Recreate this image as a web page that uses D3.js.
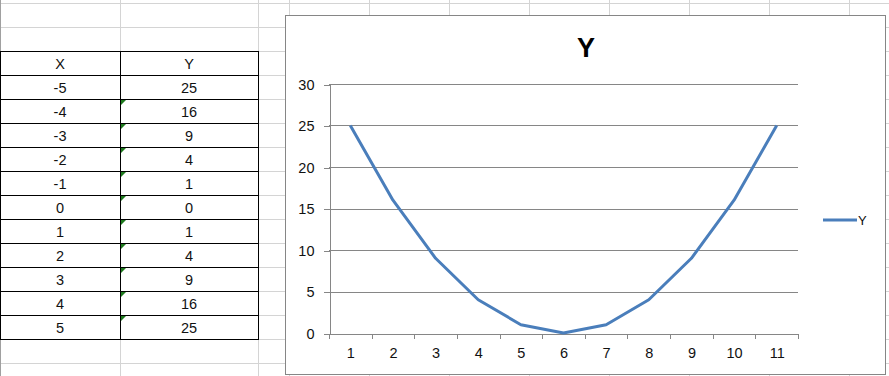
<!DOCTYPE html>
<html>
<head>
<meta charset="utf-8">
<script src="https://cdn.jsdelivr.net/npm/d3@7"></script>
<style>
  body { margin: 0; background: #fff; }
  svg { display: block; font-family: 'Liberation Sans', Arial, sans-serif; }
</style>
</head>
<body>
<script>
// table data
const xValues = [-5, -4, -3, -2, -1, 0, 1, 2, 3, 4, 5]
const yValues = [25, 16, 9, 4, 1, 0, 1, 4, 9, 16, 25]
const textFlagged = [false, true, true, true, true, true, true, true, true, true, true]
// chart data
const categories = ['1', '2', '3', '4', '5', '6', '7', '8', '9', '10', '11']
const yTicks = [0, 5, 10, 15, 20, 25, 30]
const seriesName = 'Y'

const W = 889, H = 376
const svg = d3.select('body').append('svg').attr('width', W).attr('height', H)

// ---- spreadsheet grid ----
const grid = svg.append('g').attr('stroke', '#d4d4d4').attr('shape-rendering', 'crispEdges')
const rowLines = d3.range(3.5, H, 24)
grid.selectAll('line.r').data(rowLines).enter().append('line')
  .attr('x1', 0).attr('x2', W).attr('y1', d => d).attr('y2', d => d)
const colLines = [120.5, 258.5].concat(d3.range(289.5, W, 80))
grid.selectAll('line.c').data(colLines).enter().append('line')
  .attr('x1', d => d).attr('x2', d => d).attr('y1', 0).attr('y2', H)
svg.append('line').attr('x1', 0.5).attr('x2', 0.5).attr('y1', 0).attr('y2', H)
  .attr('stroke', '#a0a0a0')

// ---- table ----
const colX = [0, 120, 258]
const rowY = d3.scaleLinear().domain([0, 1]).range([51, 75])
const rows = [['X', 'Y']].concat(xValues.map((x, i) => [String(x), String(yValues[i])]))
const table = svg.append('g')
table.selectAll('rect.cell').data(rows.flatMap((r, i) => r.map((v, j) => ({ v, i, j })))).enter()
  .append('rect')
  .attr('x', d => colX[d.j] + 0.5).attr('y', d => rowY(d.i) + 0.5)
  .attr('width', d => colX[d.j + 1] - colX[d.j]).attr('height', 24)
  .attr('fill', '#fff').attr('stroke', '#000').attr('shape-rendering', 'crispEdges')
table.selectAll('text').data(rows.flatMap((r, i) => r.map((v, j) => ({ v, i, j })))).enter()
  .append('text')
  .attr('x', d => (colX[d.j] + colX[d.j + 1]) / 2)
  .attr('y', d => rowY(d.i) + 18)
  .attr('text-anchor', 'middle').attr('font-size', 14.5).attr('fill', '#111')
  .text(d => d.v)
table.selectAll('path.flag').data(textFlagged.map((f, i) => ({ f, i })).filter(d => d.f)).enter()
  .append('path')
  .attr('d', d => { const y = rowY(d.i + 1) + 1; return `M121,${y}h5l-5,5z` })
  .attr('fill', '#1e7a1e')

// ---- chart ----
const chart = svg.append('g')
chart.append('rect').attr('x', 285.5).attr('y', 15.5).attr('width', 600).attr('height', 359)
  .attr('fill', '#fff').attr('stroke', '#868686').attr('shape-rendering', 'crispEdges')

chart.append('text').attr('x', 586).attr('y', 57).attr('text-anchor', 'middle')
  .attr('font-size', 27).attr('font-weight', 'bold').text(seriesName)

const plot = { left: 329, right: 798, top: 84, bottom: 333 }
const x = d3.scaleBand().domain(categories).range([plot.left, plot.right])
const y = d3.scaleLinear().domain([0, 30]).range([plot.bottom, plot.top])

chart.append('g').attr('shape-rendering', 'crispEdges')
  .selectAll('line').data(yTicks.slice(1)).enter().append('line')
  .attr('x1', plot.left).attr('x2', plot.right)
  .attr('y1', d => Math.round(y(d)) + 0.5).attr('y2', d => Math.round(y(d)) + 0.5)
  .attr('stroke', '#868686')

const yAxis = chart.append('g').attr('transform', `translate(${plot.left + 0.5},0.5)`)
  .call(d3.axisLeft(y).tickValues(yTicks).tickSize(6).tickPadding(9))
const xAxis = chart.append('g').attr('transform', `translate(0.5,${plot.bottom + 0.5})`)
  .call(d3.axisBottom(x).tickSize(0).tickPadding(14))
xAxis.selectAll('.tick').filter((d, i) => true).append('line')
  .attr('x1', -x.step() / 2).attr('x2', -x.step() / 2).attr('y2', 5)
xAxis.append('line').attr('x1', plot.right).attr('x2', plot.right).attr('y2', 5)
for (const g of [yAxis, xAxis]) {
  g.attr('font-family', null).attr('font-size', 14.5).attr('shape-rendering', 'crispEdges')
  g.selectAll('path.domain, line').attr('stroke', '#868686')
  g.selectAll('text').attr('fill', '#111')
}
xAxis.selectAll('.tick line').attr('stroke', '#868686')

const line = d3.line().x((d, i) => x(categories[i]) + x.bandwidth() / 2).y(d => y(d))
chart.append('path').datum(yValues).attr('d', line)
  .attr('fill', 'none').attr('stroke', '#4a7ebb').attr('stroke-width', 3)
  .attr('stroke-linejoin', 'round')

// legend
const lg = chart.append('g').attr('transform', 'translate(823,220)')
lg.append('line').attr('x1', 0).attr('x2', 34).attr('stroke', '#4a7ebb').attr('stroke-width', 3)
lg.append('text').attr('x', 35).attr('y', 5).attr('font-size', 13).attr('fill', '#111').text(seriesName)
</script>
</body>
</html>
